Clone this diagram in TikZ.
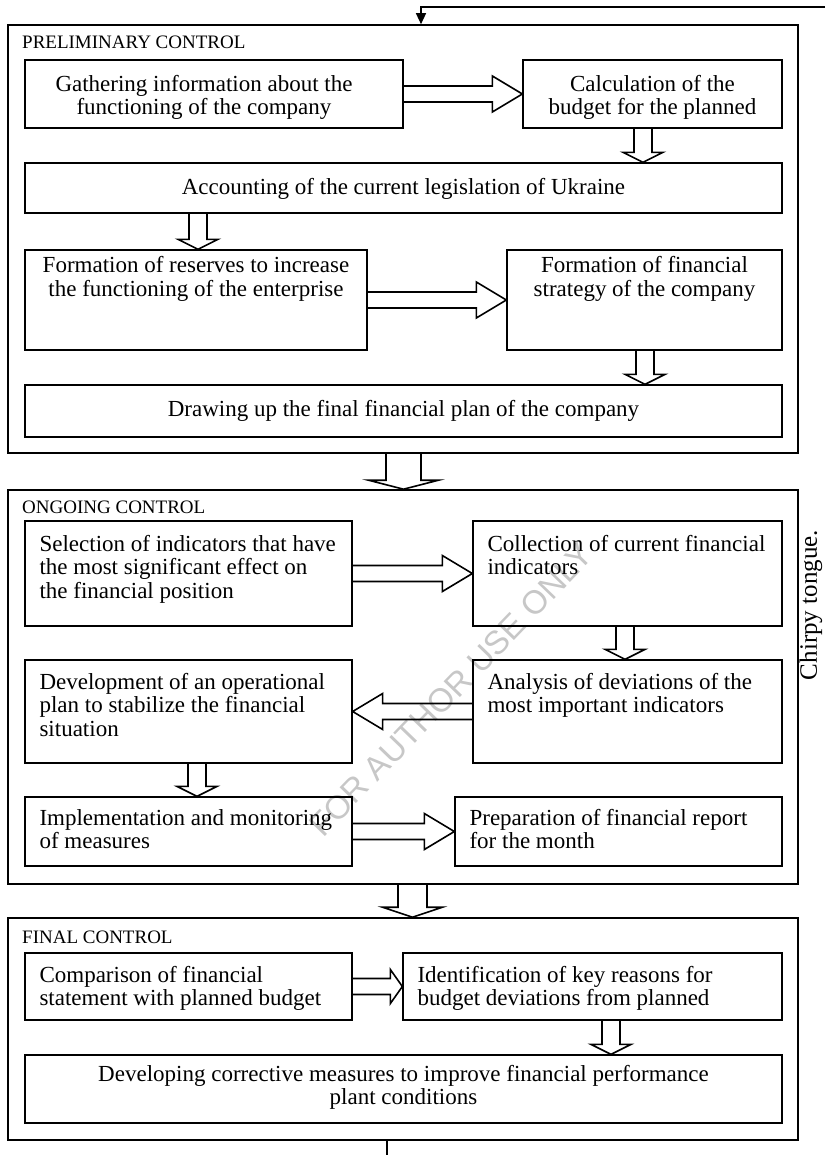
\documentclass[tikz,border=0pt]{standalone}
\usepackage{fontspec}
\setmainfont{Liberation Serif}
\newfontfamily\markfont{Liberation Sans}
\usetikzlibrary{calc,fit,arrows.meta}

\tikzset{
  stage/.style={draw, line width=1.6pt, inner sep=0pt},
  block/.style={draw, line width=1.3pt, inner sep=0pt},
  body/.style={inner sep=0pt, font=\fontsize{23}{23.5}\selectfont},
  bodyc/.style={body, anchor=north, align=center},
  bodyl/.style={body, anchor=north west, align=left},
  stagelabel/.style={inner sep=0pt, anchor=base west, font=\fontsize{19}{22}\selectfont},
  hollow/.style={draw, line width=1.6pt, line join=miter, miter limit=20},
  link/.style={line width=1.3pt},
}

% hollow block arrow: start, end, shaft half width, head half width, head length
\newcommand\fatarrow[5]{%
  \coordinate (fa-s) at #1;
  \coordinate (fa-e) at #2;
  \coordinate (fa-h) at ($(fa-e)!#5!(fa-s)$);
  \draw[hollow] ($(fa-s)!#3!90:(fa-e)$) -- ($(fa-h)!#3!90:(fa-e)$)
    -- ($(fa-h)!#4!90:(fa-e)$) -- (fa-e) -- ($(fa-h)!#4!-90:(fa-e)$)
    -- ($(fa-h)!#3!-90:(fa-e)$) -- ($(fa-s)!#3!-90:(fa-e)$);%
}

\begin{document}
\begin{tikzpicture}[x=1pt, y=-1pt]
\useasboundingbox (0,0) rectangle (825,1155);

% watermark, under everything else
\node[rotate=46, inner sep=0pt, text=black!22, font=\markfont\fontsize{33}{33}\selectfont] (wm) at (451,690) {FOR AUTHOR USE ONLY};

% stages
\node[stage, fit={(8,25) (798,453)}] (pre) {};
\node[stage, fit={(8,490) (798,884)}] (ong) {};
\node[stage, fit={(8,918) (798,1140)}] (fin) {};

\node[stagelabel] (lpre) at (22,49) {PRELIMINARY CONTROL};
\node[stagelabel] (long) at (22,513) {ONGOING CONTROL};
\node[stagelabel] (lfin) at (22,943) {FINAL CONTROL};

% preliminary control
\node[block, fit={(25,60) (403,128)}] (b1) {};
\node[block, fit={(523,60) (782,128)}] (b2) {};
\node[block, fit={(25,163) (782,213)}] (b3) {};
\node[block, fit={(25,250) (367,350)}] (b4) {};
\node[block, fit={(507,250) (782,350)}] (b5) {};
\node[block, fit={(25,385) (782,437)}] (b6) {};

\node[bodyc] (t1) at ($(b1.north)+(-10,15.5)$) {\strut Gathering information about the\\ functioning of the company};
\node[bodyc] (t2) at ($(b2.north)+(0,15.5)$) {\strut Calculation of the\\ budget for the planned};
\node[bodyc] (t3) at ($(b3.north)+(0,15.5)$) {\strut Accounting of the current legislation of Ukraine};
\node[bodyc] (t4) at ($(b4.north)+(0,6.5)$) {\strut Formation of reserves to increase\\ the functioning of the enterprise};
\node[bodyc] (t5) at ($(b5.north)+(0,6.5)$) {\strut Formation of financial\\ strategy of the company};
\node[bodyc] (t6) at ($(b6.north)+(0,15.5)$) {\strut Drawing up the final financial plan of the company};

% ongoing control
\node[block, fit={(25,521) (352,626)}] (b7) {};
\node[block, fit={(473,521) (782,626)}] (b8) {};
\node[block, fit={(25,660) (352,763)}] (b9) {};
\node[block, fit={(473,660) (782,763)}] (b10) {};
\node[block, fit={(25,797) (352,866)}] (b11) {};
\node[block, fit={(455,797) (782,866)}] (b12) {};

\node[bodyl] (t7) at ($(b7.north west)+(15,14)$) {\strut Selection of indicators that have\\ the most significant effect on\\ the financial position};
\node[bodyl] (t8) at ($(b8.north west)+(15,14)$) {\strut Collection of current financial\\ indicators};
\node[bodyl] (t9) at ($(b9.north west)+(15,13)$) {\strut Development of an operational\\ plan to stabilize the financial\\ situation};
\node[bodyl] (t10) at ($(b10.north west)+(15,13)$) {\strut Analysis of deviations of the\\ most important indicators};
\node[bodyl] (t11) at ($(b11.north west)+(15,12)$) {\strut Implementation and monitoring\\ of measures};
\node[bodyl] (t12) at ($(b12.north west)+(15,12)$) {\strut Preparation of financial report\\ for the month};

% final control
\node[block, fit={(25,953) (352,1020)}] (b13) {};
\node[block, fit={(403,953) (782,1020)}] (b14) {};
\node[block, fit={(25,1055) (782,1123)}] (b15) {};

\node[bodyl] (t13) at ($(b13.north west)+(15,13)$) {\strut Comparison of financial\\ statement with planned budget};
\node[bodyl] (t14) at ($(b14.north west)+(15,13)$) {\strut Identification of key reasons for\\ budget deviations from planned};
\node[bodyc] (t15) at ($(b15.north)+(0,10)$) {\strut Developing corrective measures to improve financial performance\\ plant conditions};

% x positions of the downward arrows
\coordinate (x1) at (643,0);
\coordinate (x2) at (198,0);
\coordinate (x3) at (645,0);
\coordinate (x4) at (403.5,0);
\coordinate (x5) at (625,0);
\coordinate (x6) at (197,0);
\coordinate (x7) at (412.5,0);
\coordinate (x8) at (611,0);

% block arrows
\fatarrow{(b1.east)}{(b2.west)}{8pt}{18pt}{30pt}
\fatarrow{(x1 |- b2.south)}{(x1 |- b3.north)}{9pt}{20pt}{10pt}
\fatarrow{(x2 |- b3.south)}{(x2 |- b4.north)}{9pt}{20pt}{10pt}
\fatarrow{(b4.east)}{(b5.west)}{8pt}{18pt}{30pt}
\fatarrow{(x3 |- b5.south)}{(x3 |- b6.north)}{9pt}{20pt}{10pt}
\fatarrow{(x4 |- pre.south)}{(x4 |- ong.north)}{17.5pt}{35pt}{9pt}

\fatarrow{(b7.east)}{(b8.west)}{8pt}{18pt}{30pt}
\fatarrow{(x5 |- b8.south)}{(x5 |- b10.north)}{9pt}{20pt}{10pt}
\fatarrow{(b10.west)}{(b9.east)}{8pt}{18pt}{30pt}
\fatarrow{(x6 |- b9.south)}{(x6 |- b11.north)}{9pt}{20pt}{10pt}
\fatarrow{(b11.east)}{(b12.west)}{8pt}{18pt}{30pt}
\fatarrow{(x7 |- ong.south)}{(x7 |- fin.north)}{14.5pt}{30pt}{10pt}

\fatarrow{(b13.east)}{(b14.west)}{8pt}{17pt}{12pt}
\fatarrow{(x8 |- b14.south)}{(x8 |- b15.north)}{9pt}{20pt}{10pt}

% feedback line
\coordinate (fbR) at (825,7);
\coordinate (fbT) at (421,7);
\coordinate (fbB) at (387,1155);
\draw[link, -{Triangle[width=10pt,length=11pt]}] (fbR) -- (fbT) -- (fbT |- pre.north);
\draw[link] (fbB |- fin.south) -- (fbB);

% side note
\node[inner sep=0pt, font=\fontsize{25}{25}\selectfont, rotate=90] (side) at (811,605) {Chirpy tongue.};
\end{tikzpicture}
\end{document}
